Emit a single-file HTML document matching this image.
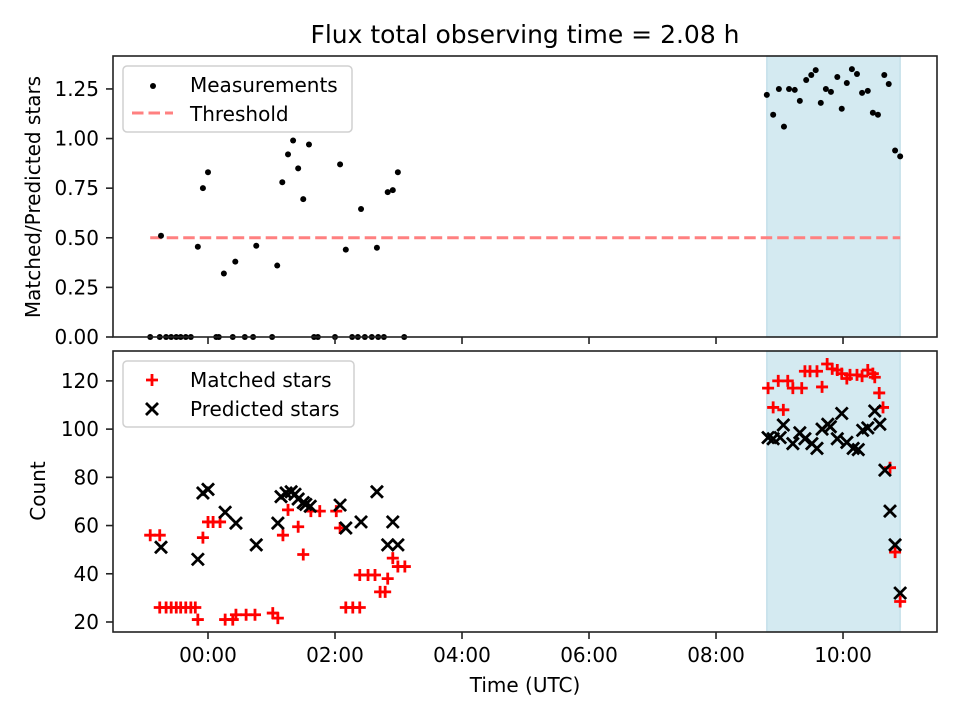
<!DOCTYPE html>
<html><head><meta charset="utf-8"><style>
body{margin:0;background:#fff}
svg{display:block;font-family:"DejaVu Sans","Liberation Sans",sans-serif}
</style></head><body>
<svg id="chart" width="960" height="720" viewBox="0 0 960 720" xmlns="http://www.w3.org/2000/svg"></svg>
<script>
// ---- data ----
const ratioTimes=[-0.74,-0.16,-0.08,0.0,0.25,0.43,0.76,1.09,1.17,1.26,1.34,1.42,1.50,1.59,2.08,2.17,2.41,2.66,2.83,2.91,2.99,
 8.80,8.90,8.99,9.07,9.15,9.24,9.32,9.42,9.50,9.57,9.65,9.73,9.81,9.91,9.98,10.06,10.14,10.22,10.30,10.39,10.47,10.55,10.65,10.72,10.82,10.90];
const ratioValues=[0.51,0.455,0.75,0.83,0.32,0.38,0.46,0.36,0.78,0.92,0.99,0.85,0.695,0.97,0.87,0.44,0.645,0.45,0.73,0.74,0.83,
 1.22,1.12,1.25,1.06,1.25,1.245,1.19,1.295,1.32,1.345,1.18,1.25,1.235,1.31,1.15,1.28,1.35,1.325,1.23,1.24,1.13,1.12,1.32,1.275,0.94,0.91];
const zeroTimes=[-0.91,-0.76,-0.66,-0.58,-0.50,-0.43,-0.35,-0.27,0.13,0.17,0.39,0.58,0.71,1.01,1.67,1.73,2.00,2.27,2.36,2.47,2.58,2.68,2.77,3.09];
const matchedTimes=[-0.91,-0.76,-0.76,-0.66,-0.58,-0.50,-0.43,-0.35,-0.27,-0.20,-0.16,-0.08,0.0,0.08,0.19,0.27,0.39,0.44,0.60,0.74,1.02,1.10,1.18,1.26,1.42,1.50,1.62,1.76,2.02,2.08,2.17,2.28,2.39,2.39,2.52,2.63,2.71,2.79,2.83,2.91,2.99,3.10,
 8.82,8.90,9.06,8.98,9.13,9.21,9.35,9.40,9.48,9.59,9.67,9.75,9.83,9.91,9.98,10.06,10.11,10.22,10.30,10.39,10.47,10.50,10.57,10.63,10.74,10.82,10.90];
const matchedValues=[56,56,26,26,26,26,26,26,26,26,21,55,61.5,61.5,61.5,21,21,23,23,23,23.7,21.6,56,66.5,59.5,48,66,66,66,59,26,26,26,39.5,39.5,39.5,32.5,32.5,38,46.5,43,43,
 117,109,108,120,120,117,117,124,124,124,117.5,127,125,124.5,123,121,122.5,122.5,122,124.5,123,121.5,115,109,84,49,28.5];
const predictedTimes=[-0.74,-0.16,-0.08,0.0,0.27,0.44,0.76,1.10,1.15,1.23,1.31,1.37,1.42,1.50,1.54,1.61,2.08,2.17,2.41,2.66,2.91,2.83,2.99,
 8.82,8.90,9.01,9.06,9.21,9.32,9.40,9.51,9.59,9.67,9.76,9.80,9.98,9.91,10.06,10.16,10.24,10.31,10.39,10.50,10.58,10.66,10.74,10.82,10.90];
const predictedValues=[51,46,73.5,75,65.5,61,52,61,72,73.5,74,73,71,69.5,68.8,68,68.5,59,61.5,74,61.5,52,52,
 96.5,96,96.5,101.7,94,98.5,96,94,92,100,102,101,106.5,96,94.5,92,91.5,99.5,100.5,107.5,102,83,66,52,32];
const xTicks=[0,2,4,6,8,10];
const xTickLabels=["00:00","02:00","04:00","06:00","08:00","10:00"];
const topTicks=[0,0.25,0.5,0.75,1.0,1.25];
const topTickLabels=["0.00","0.25","0.50","0.75","1.00","1.25"];
const botTicks=[20,40,60,80,100,120];
const threshold=0.5, thresholdStart=-0.91, thresholdEnd=10.90;
const shadeStart=8.80, shadeEnd=10.90;

// ---- layout ----
const L=113,R=937;
const T1=56,B1=337,T2=351,B2=632;
const xMin=-1.496,xMax=11.48;
const y1Min=0,y1Max=1.416;
const y2Min=15.85,y2Max=132.4;
const X=h=>L+(h-xMin)/(xMax-xMin)*(R-L);
const Y1=v=>B1-(v-y1Min)/(y1Max-y1Min)*(B1-T1);
const Y2=v=>B2-(v-y2Min)/(y2Max-y2Min)*(B2-T2);
const FS=20;

const svg=document.getElementById('chart');
const NS='http://www.w3.org/2000/svg';
function el(tag,attrs,parent,text){const e=document.createElementNS(NS,tag);for(const k in attrs)e.setAttribute(k,attrs[k]);if(text!==undefined)e.textContent=text;(parent||svg).appendChild(e);return e;}

const title=el('text',{x:525,y:43,'text-anchor':'middle','font-size':25},svg,'Flux total observing time = 2.08 h');



function panel(T,B,name){
  const g=el('g',{});
  
  
  const s=el('rect',{x:X(shadeStart),y:T,width:X(shadeEnd)-X(shadeStart),height:B-T,fill:'#d4eaf1',stroke:'#bcdbe7','stroke-width':1.2},g);
  
  
  return g;
}
function frame(g,T,B,ticks,Yf,labels,tickLbls){
  el('rect',{x:L,y:T,width:R-L,height:B-T,fill:'none',stroke:'#222','stroke-width':1.6},g);
  xTicks.forEach((t,i)=>{
    el('line',{x1:X(t),x2:X(t),y1:B,y2:B+7,stroke:'#222','stroke-width':1.6},g);
    if(labels){const tl=el('text',{x:X(t),y:B+30,'text-anchor':'middle','font-size':FS},g,xTickLabels[i]);
      
      }
  });
  ticks.forEach((t,i)=>{
    el('line',{x1:L-7,x2:L,y1:Yf(t),y2:Yf(t),stroke:'#222','stroke-width':1.6},g);
    const tl=el('text',{x:99,y:Yf(t)+7,'text-anchor':'end','font-size':FS},g,tickLbls[i]);
    
    
  });
}

// top panel
const g1=panel(T1,B1,'ratio-panel');
const th=el('line',{x1:X(thresholdStart),x2:X(thresholdEnd),y1:Y1(threshold),y2:Y1(threshold),stroke:'#ff8080','stroke-width':3,'stroke-dasharray':'11.5,5'},g1);


ratioTimes.forEach((t,i)=>{
  const c=el('circle',{cx:X(t),cy:Y1(ratioValues[i]),r:3,fill:'#000'},g1);
  
  
});
zeroTimes.forEach(t=>{
  const c=el('circle',{cx:X(t),cy:Y1(0),r:3,fill:'#000'},g1);
  
  
});
frame(g1,T1,B1,topTicks,Y1,false,topTickLabels);

// bottom panel
const g2=panel(T2,B2,'count-panel');
function plus(x,y,g,c){el('path',{d:`M${x-6},${y}H${x+6}M${x},${y-6}V${y+6}`,stroke:c,'stroke-width':2.8,fill:'none'},g);}
function cross(x,y,g,c){el('path',{d:`M${x-6},${y-6}L${x+6},${y+6}M${x-6},${y+6}L${x+6},${y-6}`,stroke:c,'stroke-width':2.8,fill:'none'},g);}
matchedTimes.forEach((t,i)=>{
  const gg=el('g',{},g2);
  
  
  plus(X(t),Y2(matchedValues[i]),gg,'#ff0000');
});
predictedTimes.forEach((t,i)=>{
  const gg=el('g',{},g2);
  
  
  cross(X(t),Y2(predictedValues[i]),gg,'#000');
});
frame(g2,T2,B2,botTicks,Y2,true,botTicks.map(String));

// axis titles
const yt1=el('text',{transform:'translate(40,197) rotate(-90)','text-anchor':'middle','font-size':FS},svg,'Matched/Predicted stars');


const yt2=el('text',{transform:'translate(45,491) rotate(-90)','text-anchor':'middle','font-size':FS},svg,'Count');


const xt=el('text',{x:525,y:692,'text-anchor':'middle','font-size':FS},svg,'Time (UTC)');



// legends
const lg1=el('g',{});


el('rect',{x:123,y:66,width:229,height:66,rx:4,fill:'#fff','fill-opacity':0.85,stroke:'#d0d0d0','stroke-width':1.5},lg1);
el('circle',{cx:153,cy:86,r:3,fill:'#000'},lg1);
el('text',{x:190,y:92,'font-size':FS},lg1,'Measurements');
el('line',{x1:132,x2:173,y1:113,y2:113,stroke:'#ff8080','stroke-width':3,'stroke-dasharray':'11.5,5'},lg1);
el('text',{x:190,y:121,'font-size':FS},lg1,'Threshold');

const lg2=el('g',{});


el('rect',{x:123,y:361,width:231,height:66,rx:4,fill:'#fff','fill-opacity':0.85,stroke:'#d0d0d0','stroke-width':1.5},lg2);
plus(152,380,lg2,'#ff0000');
el('text',{x:190,y:387,'font-size':FS},lg2,'Matched stars');
cross(152,409,lg2,'#000');
el('text',{x:190,y:416,'font-size':FS},lg2,'Predicted stars');
</script>
</body></html>
